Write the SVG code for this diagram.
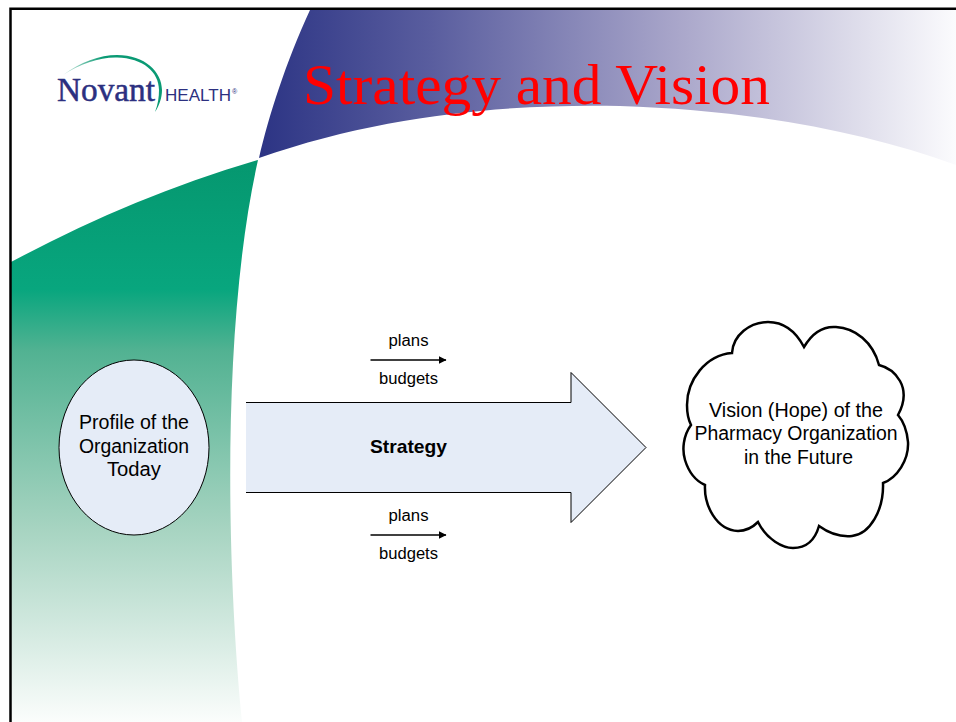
<svg xmlns="http://www.w3.org/2000/svg" width="956" height="722" viewBox="0 0 956 722">
<style>
.t{font-family:"Liberation Sans",Arial,sans-serif;fill:#000;text-anchor:middle}
.s{font-size:16px}
.m{font-size:19.500px}
.b{fill:#e5ecf7;stroke:#000;stroke-width:1}
.c{stroke:#000;stroke-width:1.400;fill:none;marker-end:url(#ah)}
</style>
<defs>
<linearGradient id="blue" gradientUnits="userSpaceOnUse" x1="259" y1="0" x2="956" y2="0">
<stop offset="0" stop-color="#2c3484"/><stop offset="0.25" stop-color="#5a5e9f"/><stop offset="0.6" stop-color="#a9a6ca"/><stop offset="1" stop-color="#fbfbfd"/>
</linearGradient>
<linearGradient id="green" gradientUnits="userSpaceOnUse" x1="0" y1="160" x2="0" y2="722">
<stop offset="0" stop-color="#05976f"/><stop offset="0.23" stop-color="#08a67e"/><stop offset="0.34" stop-color="#52b292"/><stop offset="0.65" stop-color="#a5d3c0"/><stop offset="1" stop-color="#fbfdfc"/>
</linearGradient>
<linearGradient id="arc" gradientUnits="userSpaceOnUse" x1="62" y1="0" x2="130" y2="0">
<stop offset="0" stop-color="#d5ebe4"/><stop offset="0.6" stop-color="#0a9a74"/><stop offset="1" stop-color="#0a9a74"/>
</linearGradient>
<marker id="ah" markerWidth="8" markerHeight="8" refX="7.500" refY="4" orient="auto" markerUnits="userSpaceOnUse"><path d="M0,0L8,4L0,8z" fill="#000"/></marker>
</defs>
<rect width="956" height="722" fill="#fff"/>
<path d="M310,10C286,62 269,115 259,158C390,112 520,104 620,106C745,110 860,130 956,165V10Z" fill="url(#blue)"/>
<path d="M258,160C170,186 90,220 11,262V722H242C226,560 222,320 258,160Z" fill="url(#green)"/>
<path d="M10.500,722V8.800H956" fill="none" stroke="#000" stroke-width="2.500"/>
<g id="logo">
<path d="M63,75C80,62 100,55 117,55C145,55 162,72 162,90C162,98 159,106 155,112C158,104 159,97 159,90C159,72 143,58 117,57.500C100,57 80,64 63,75Z" fill="url(#arc)"/>
<text x="57" y="101" font-family="'Liberation Serif',serif" font-size="34" fill="#2c3080" stroke="#2c3080" stroke-width="0.500" textLength="98" lengthAdjust="spacingAndGlyphs">Novant</text>
<text x="165" y="100.500" font-family="'Liberation Sans',sans-serif" font-size="17" fill="#2c3080" textLength="66" lengthAdjust="spacingAndGlyphs">HEALTH</text>
<text x="232" y="94" font-family="'Liberation Sans',sans-serif" font-size="7" fill="#2c3080">®</text>
</g>
<text id="title" x="303" y="104" font-family="'Liberation Serif','Times New Roman',serif" font-size="58" fill="#ff0000" textLength="467" lengthAdjust="spacingAndGlyphs">Strategy and Vision</text>
<g id="profile">
<ellipse cx="134" cy="447.500" rx="75" ry="87.500" class="b"/>
<text class="t m" x="134" y="429" textLength="110" lengthAdjust="spacingAndGlyphs">Profile of the</text>
<text class="t m" x="134" y="453" textLength="110" lengthAdjust="spacingAndGlyphs">Organization</text>
<text class="t m" x="134" y="476" textLength="54" lengthAdjust="spacingAndGlyphs">Today</text>
</g>
<g id="strategy">
<path d="M246,402.500H571V372.500L646,447.500L571,522.500V492.500H246" class="b"/>
<text class="t" x="408.500" y="453" font-size="18.500" font-weight="bold" textLength="77" lengthAdjust="spacingAndGlyphs">Strategy</text>
</g>
<g id="vision">
<path d="M804,347C795,330 782,322 768,322C750,322 733,335 732,353C706,355 687,380 687,405C687,412 688,419 691,425C683,436 682,450 685,460C689,473 696,481 705,485C704,505 716,530 738,531C745,531 752,528 758,522C767,540 783,548 793,548C806,548 815,540 819,526C830,534 842,537 852,536C870,534 884,510 883,483C897,478 909,460 908,442C907,431 904,422 898,415C905,402 905,390 900,381C895,372 887,367 879,365C873,342 855,328 836,327C822,326 811,335 804,347Z" fill="#fff" stroke="#000" stroke-width="2.500"/>
<text class="t m" x="796" y="417" textLength="174" lengthAdjust="spacingAndGlyphs">Vision (Hope) of the</text>
<text class="t m" x="796" y="440" textLength="203" lengthAdjust="spacingAndGlyphs">Pharmacy Organization</text>
<text class="t m" x="798.500" y="464" textLength="109" lengthAdjust="spacingAndGlyphs">in the Future</text>
</g>
<g id="labels-top">
<text class="t s" x="408.500" y="346" textLength="40" lengthAdjust="spacingAndGlyphs">plans</text>
<text class="t s" x="408.500" y="384" textLength="59" lengthAdjust="spacingAndGlyphs">budgets</text>
</g>
<g id="labels-bottom">
<text class="t s" x="408.500" y="521" textLength="40" lengthAdjust="spacingAndGlyphs">plans</text>
<text class="t s" x="408.500" y="558.500" textLength="59" lengthAdjust="spacingAndGlyphs">budgets</text>
</g>
<g id="connectors">
<path d="M370.500,360H446" class="c"/>
<path d="M370.500,535H446" class="c"/>
</g>
</svg>
